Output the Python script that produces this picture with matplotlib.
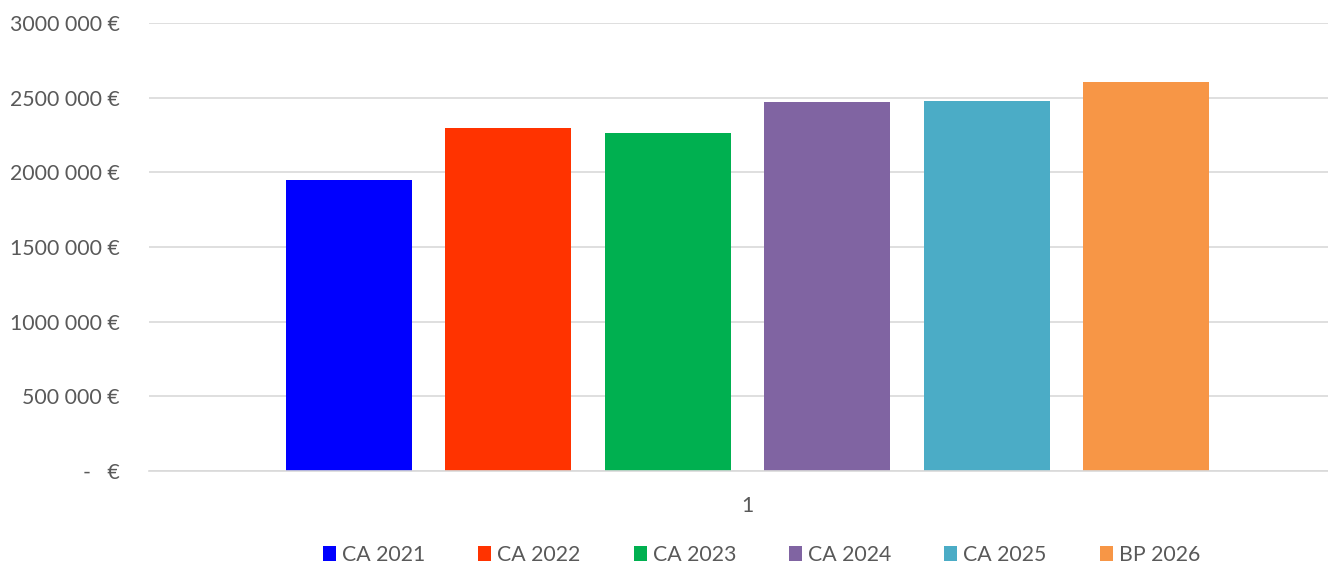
import matplotlib
matplotlib.use('Agg')
from matplotlib import pyplot as plt
from matplotlib.ticker import FuncFormatter

# data
series = ['CA 2021', 'CA 2022', 'CA 2023', 'CA 2024', 'CA 2025', 'BP 2026']
values = [1949000, 2297000, 2263000, 2471000, 2478000, 2605000]
colors = ['#0000FF', '#FF3300', '#00B050', '#8064A2', '#4BACC6', '#F79646']
category = '1'
y_ticks = [0, 500000, 1000000, 1500000, 2000000, 2500000, 3000000]

plt.rcParams['font.family'] = ['Lato', 'DejaVu Sans']
text_grey = '#595959'
grid_grey = '#D9D9D9'
fsize = 15.3

def euro(v, pos):
	v = int(round(v))
	if v == 0:
		return '-   €'
	return '%d %03d €' % (v // 1000, v % 1000)

fig = plt.figure(figsize=(13.28, 5.63), dpi=100)
ax = fig.add_axes([149 / 1328, 1 - 471 / 563, 1197 / 1328, 448 / 563])

step = 0.1332
width = 0.1053
for i in range(len(series)):
	ax.bar((i - 2.5) * step, values[i], width=width, color=colors[i], label=series[i], zorder=3)

ax.set_xlim(-0.5, 0.5)
ax.set_ylim(0, 3000000)
ax.set_yticks(y_ticks)
ax.yaxis.set_major_formatter(FuncFormatter(euro))
ax.set_xticks([0])
ax.set_xticklabels([category])
ax.tick_params(axis='y', length=0, pad=21, labelsize=fsize, labelcolor=text_grey)
ax.tick_params(axis='x', length=0, pad=18, labelsize=fsize, labelcolor=text_grey)

ax.grid(axis='y', color=grid_grey, linewidth=1.2, zorder=0)
for s in ['top', 'right', 'left']:
	ax.spines[s].set_visible(False)
ax.spines['bottom'].set_color(grid_grey)
ax.spines['bottom'].set_linewidth(1.2)
ax.spines['bottom'].set_zorder(4)

leg = fig.legend(loc='center', bbox_to_anchor=(761.5 / 1328, 1 - 555 / 563), ncol=6,
	frameon=False, fontsize=fsize, handlelength=0.61, handleheight=0.66,
	handletextpad=0.28, columnspacing=2.5, borderaxespad=0, borderpad=0)
for t in leg.get_texts():
	t.set_color(text_grey)

fig.savefig('out.png', dpi=100)
